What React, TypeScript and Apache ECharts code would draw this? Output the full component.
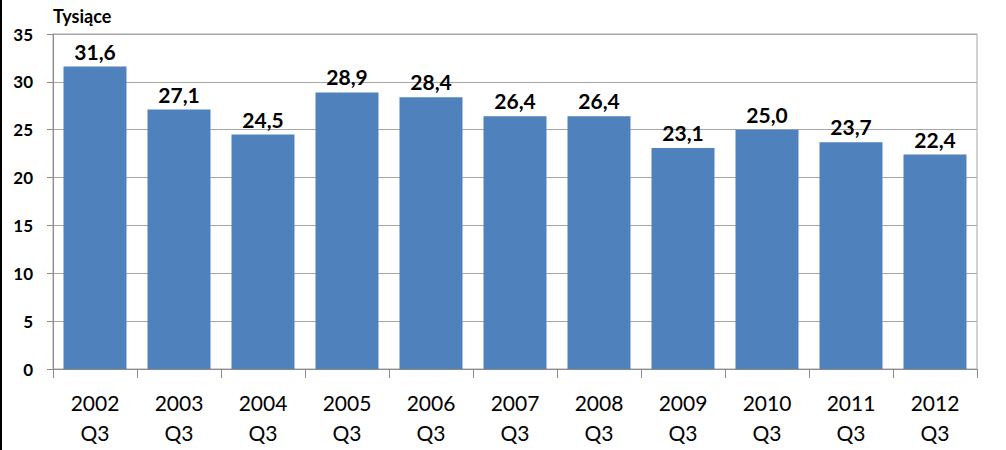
import React, { useEffect, useRef } from "react";
import * as echarts from "echarts";

const years = ["2002", "2003", "2004", "2005", "2006", "2007", "2008", "2009", "2010", "2011", "2012"];
const quarter = "Q3";
const values = [31.6, 27.1, 24.5, 28.9, 28.4, 26.4, 26.4, 23.1, 25.0, 23.7, 22.4];
const yTicks = { min: 0, max: 35, interval: 5 };
const unitLabel = "Tysiące";

const FONT = "Lato, 'Open Sans', sans-serif";

export default function App() {
  const ref = useRef<HTMLDivElement>(null);
  useEffect(() => {
    const chart = echarts.init(ref.current!, undefined, { renderer: "svg" });
    chart.setOption({
      animation: false,
      backgroundColor: "#ffffff",
      grid: {
        left: 53,
        right: 29,
        top: 34,
        bottom: 81,
        containLabel: false,
        show: true,
        borderColor: "#a6a6a6",
        borderWidth: 1,
      },
      graphic: [
        { type: "rect", left: 0, top: 0, shape: { width: 2, height: 450 }, style: { fill: "#000" } },
        {
          type: "text",
          left: 53,
          top: 7,
          style: { text: unitLabel, font: `bold 18px ${FONT}`, fill: "#000" },
        },
      ],
      xAxis: {
        type: "category",
        data: years.map((y) => `${y}\n${quarter}`),
        axisLine: { lineStyle: { color: "#8c8c8c", width: 1 } },
        axisTick: { show: true, length: 9, lineStyle: { color: "#8c8c8c" } },
        axisLabel: {
          color: "#000",
          fontFamily: FONT,
          fontSize: 21,
          lineHeight: 30,
          margin: 18,
        },
      },
      yAxis: {
        type: "value",
        min: yTicks.min,
        max: yTicks.max,
        interval: yTicks.interval,
        axisLine: { show: true, lineStyle: { color: "#8c8c8c" } },
        axisTick: { show: true, length: 6, lineStyle: { color: "#8c8c8c" } },
        splitLine: { show: true, lineStyle: { color: "#a6a6a6", width: 1 } },
        axisLabel: {
          color: "#000",
          fontFamily: FONT,
          fontWeight: "bold",
          fontSize: 17,
          margin: 20,
        },
      },
      series: [
        {
          type: "bar",
          data: values,
          barCategoryGap: "25%",
          itemStyle: { color: "#4F81BD" },
          label: {
            show: true,
            position: "top",
            distance: 5,
            color: "#000",
            fontFamily: FONT,
            fontWeight: "bold",
            fontSize: 21,
            formatter: (p: any) => p.value.toFixed(1).replace(".", ","),
          },
        },
      ],
    });
    return () => chart.dispose();
  }, []);
  return (
    <div
      ref={ref}
      style={{ position: "fixed", left: 0, top: 0, width: 1006, height: 450, background: "#fff" }}
    />
  );
}
